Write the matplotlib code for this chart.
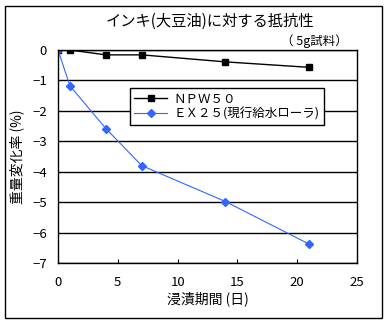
import matplotlib
matplotlib.use('Agg')
import matplotlib.pyplot as plt
from matplotlib.patches import Rectangle

plt.rcParams['font.family'] = ['Noto Sans CJK JP', 'DejaVu Sans']

days = [0, 1, 4, 7, 14, 21]
npw50 = [0, 0, -0.16, -0.16, -0.39, -0.57]
ex25 = [0, -1.18, -2.58, -3.8, -4.98, -6.38]
xticks = [0, 5, 10, 15, 20, 25]
yticks = [0, -1, -2, -3, -4, -5, -6, -7]

fig = plt.figure(figsize=(3.88, 3.26), dpi=100)
ax = fig.add_axes([58 / 388, 63 / 326, 299 / 388, 213 / 326])

ax.plot(days, npw50, color='black', lw=1, marker='s', ms=5,
        label='ＮＰＷ５０')
ax.plot(days, ex25, color='#3366ff', lw=0.8, marker='D', ms=4.5,
        label='ＥＸ２５(現行給水ローラ)')

ax.set_xlim(0, 25)
ax.set_ylim(-7, 0)
ax.set_xticks(xticks)
ax.set_yticks(yticks)
ax.yaxis.grid(True, color='black', lw=1)
ax.set_axisbelow(True)
ax.tick_params(axis='x', direction='in', length=3, labelsize=9.5, pad=9)
ax.tick_params(axis='y', length=0, labelsize=9.5, pad=8)
for s in ax.spines.values():
    s.set_color('black')
    s.set_linewidth(1)

ax.set_xlabel('浸漬期間 (日)', fontsize=10, labelpad=2)
ax.set_ylabel('重量変化率 (%)', fontsize=10, labelpad=6)
fig.text(0.54, 0.935, 'インキ(大豆油)に対する抵抗性', ha='center', va='center', fontsize=11)
fig.text(0.895, 0.875, '（ 5g試料）', ha='right', va='center', fontsize=9)

leg = ax.legend(loc='upper left', bbox_to_anchor=(72 / 299, 1 - 38 / 213),
                fontsize=9, frameon=True, fancybox=False, framealpha=1,
                borderpad=0.35, labelspacing=0.15, handlelength=2.6,
                handletextpad=0.5, borderaxespad=0)
leg.get_frame().set_edgecolor('black')
leg.get_frame().set_linewidth(1)

fig.patches.append(Rectangle((5 / 388, 1 - 318 / 326), 377 / 388, 312 / 326,
                             transform=fig.transFigure, fill=False,
                             ec='black', lw=1))

fig.savefig('out.png', dpi=100)
